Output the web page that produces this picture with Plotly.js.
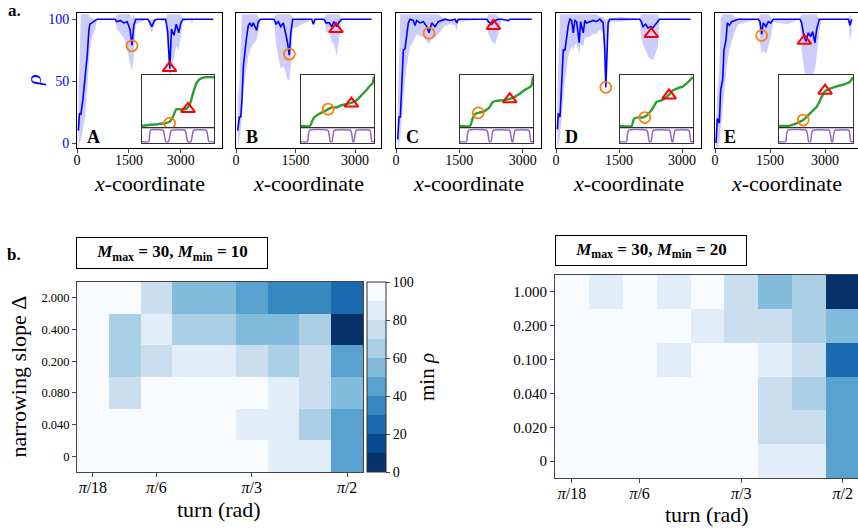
<!DOCTYPE html>
<html><head><meta charset="utf-8">
<script src="https://cdn.plot.ly/plotly-3.0.1.min.js"></script>
<style>body{margin:0;background:#fff;} #plot{width:858px;height:532px;}</style>
</head><body><div id="plot"></div>
<script>
// ---------- panel a: rho along x-coordinate ----------
const panelLetters = ['A','B','C','D','E'];
const xTicks = [0, 1500, 3000];
const yTicks = [0, 50, 100];

const aX   = [40,70,110,170,240,300,340,370,430,530,580,1100,1150,1250,1350,1450,1530,1590,1640,1700,2050,2110,2160,2240,2300,2560,2620,2680,2730,2800,2870,2940,3000,3060,3280,3320,3360,3940];
const aRho = [10,24,23,35,55,72,90,96,97,99.5,100,100,98,99,97,98,92,79,95,100,100,97,94,99,100,100,90,60,92,87,96,89,97,100,100,100,100,100];
const aLo  = [-4,0,2,10,22,45,60,75,85,92,100,100,92,88,85,75,65,58,70,96,100,92,89,95,100,98,70,52,60,70,78,75,85,98,100,96,100,100];
const aHi  = [45,60,104,104,104,104,104,102,101,100,100,100,104,104,104,104,104,100,104,100,100,100,100,100,100,100,104,104,104,104,104,104,104,100,100,100,100,100];

const bX   = [42,84,118,151,185,227,269,311,353,395,437,479,521,563,622,958,1008,1067,1126,1193,1244,1294,1344,1378,1429,1908,1950,1992,2218,2269,2353,2412,2470,2538,2605,2664,3420];
const bRho = [10,21,21,35,62,75,86,95,97,94,97,94,91,98,100,100,96,98,94,97,90,82,71,88,100,100,96,100,100,97,97,94,98,94,98,100,100];
const bLo  = [-4,5,10,22,40,52,62,70,75,78,80,81,84,90,100,100,80,70,60,62,58,52,50,60,92,100,94,100,100,90,88,82,80,70,85,100,100];
const bHi  = [38,48,80,104,104,104,104,104,104,104,104,104,104,102,100,100,104,104,104,104,104,104,104,104,100,100,100,100,100,104,104,104,104,104,104,100,100];

const cX   = [40,71,103,134,174,213,253,292,332,411,450,490,569,648,727,782,845,924,1003,1082,1161,1280,1398,1438,1477,2149,2188,2267,2346,2425,2504,2662,2702,3215];
const cRho = [3,21,21,48,75,76,89,97,100,99,95,99,97,98,94,89,97,94,98,99,100,99,100,97,100,100,98,96,99,100,100,99,100,100];
const cLo  = [-4,-2,5,20,35,50,62,72,78,82,85,88,86,86,82,80,84,85,88,92,95,96,95,90,98,100,88,82,80,88,100,97,100,100];
const cHi  = [30,60,104,104,104,104,104,104,104,104,104,104,104,104,104,104,104,104,104,102,100,100,100,100,100,100,104,104,104,102,100,100,100,100];

const dX   = [32,55,95,134,174,213,253,292,332,371,411,450,490,553,585,648,687,727,806,885,964,1043,1122,1161,1185,1217,1240,1280,1517,1991,2030,2070,2133,2188,2244,2307,2370,2425,2465,3200];
const dRho = [11,24,21,48,75,75,86,95,100,99,89,99,98,81,98,89,99,97,98,99,98,100,97,75,45,75,97,100,100,100,98,94,96,93,94,93,96,98,100,100];
const dLo  = [-4,-2,5,20,38,50,60,70,75,78,75,80,80,72,80,78,85,85,86,88,88,92,88,55,38,55,85,98,98,100,85,80,75,70,68,67,72,78,100,100];
const dHi  = [40,60,104,104,104,104,104,104,104,104,104,104,104,104,104,104,104,104,104,104,104,102,102,100,100,100,100,100,102,100,104,104,104,104,104,104,104,104,100,100];

const eX   = [27,64,118,155,209,245,300,336,391,455,545,636,1182,1227,1273,1318,1391,1454,1518,1591,1955,2318,2364,2427,2482,2545,2609,2664,2727,2773,2845,2909,3636,3682,3727];
const eRho = [0,20,16,43,51,75,83,97,95,98,99,100,100,98,88,97,94,98,97,100,100,100,97,86,82,89,86,90,81,92,100,100,100,95,100];
const eLo  = [-4,-4,0,10,25,40,55,65,75,82,90,96,100,80,72,75,72,78,85,98,96,100,75,60,52,55,52,55,60,70,90,100,100,82,90];
const eHi  = [15,40,60,100,104,104,104,104,104,104,102,100,100,104,104,104,104,104,102,100,100,100,104,104,104,104,104,104,104,104,100,100,100,104,100];

// marked points (orange circle, red triangle) in the main panels
const circX = [1590,1344,782,1185,1273];
const circY = [78.5,71.8,88.7,45,86.8];
const triX  = [2673,2521,2307,2267,2436];
const triY  = [60.5,92,94.6,88,82.5];

// ---------- insets (x as fraction of panel extent) ----------
const gAx = [0,0.315,0.384,0.43,0.477,0.523,0.593,0.639,0.676,0.708,0.755,0.801,0.87,1];
const gAy = [0.048,0.093,0.12,0.216,0.353,0.353,0.353,0.39,0.49,0.65,0.836,0.91,0.948,0.948];
const gBx = [0,0.123,0.159,0.19,0.259,0.327,0.373,0.418,0.486,0.555,0.623,0.691,0.759,0.827,0.895,0.95,0.977,1];
const gBy = [0.043,0.043,0.153,0.215,0.276,0.319,0.356,0.387,0.387,0.43,0.448,0.472,0.521,0.613,0.706,0.80,0.828,0.963];
const gCx = [0,0.136,0.173,0.205,0.25,0.295,0.355,0.409,0.445,0.5,0.568,0.636,0.682,0.75,0.818,0.909,0.977,1];
const gCy = [0.043,0.043,0.184,0.264,0.288,0.30,0.337,0.40,0.485,0.51,0.52,0.534,0.546,0.583,0.644,0.73,0.79,0.963];
const gDx = [0,0.159,0.191,0.25,0.318,0.355,0.4,0.455,0.5,0.568,0.636,0.673,0.727,0.795,0.864,0.932,1];
const gDy = [0.043,0.043,0.178,0.202,0.202,0.227,0.288,0.387,0.49,0.52,0.583,0.626,0.706,0.748,0.779,0.859,0.951];
const gEx = [0,0.145,0.236,0.327,0.395,0.464,0.509,0.545,0.577,0.623,0.691,0.782,0.873,0.955,1];
const gEy = [0.043,0.049,0.092,0.153,0.245,0.337,0.40,0.49,0.583,0.693,0.736,0.779,0.816,0.859,0.951];
const inCircX = [0.384,0.373,0.25,0.34,0.327];
const inCircY = [0.093,0.356,0.288,0.20,0.153];
const inTriX  = [0.639,0.691,0.682,0.673,0.623];
const inTriY  = [0.36,0.46,0.54,0.61,0.70];

const pAx = [0,0.095,0.105,0.12,0.28,0.30,0.315,0.33,0.37,0.385,0.40,0.42,0.59,0.605,0.62,0.635,0.68,0.695,0.71,0.725,0.885,0.90,0.915,0.93,1];
const pBx = [0,0.09,0.10,0.12,0.36,0.375,0.39,0.40,0.425,0.435,0.45,0.465,0.67,0.685,0.70,0.71,0.725,0.735,0.75,0.765,0.935,0.95,0.96,0.97,1];
const pY  = [0.07,0.07,0.5,0.88,0.88,0.8,0.4,0.07,0.07,0.4,0.8,0.88,0.88,0.8,0.4,0.07,0.07,0.4,0.8,0.88,0.88,0.8,0.4,0.07,0.07];

// ---------- panel b: heatmaps ----------
const turnTickText = ['<i>π</i>/18','<i>π</i>/6','<i>π</i>/3','<i>π</i>/2'];
const turnTickPos = [0,2,5,8];
const slopeLeft  = ['0','0.040','0.080','0.200','0.400','2.000'];
const slopeRight = ['0','0.020','0.040','0.100','0.200','1.000'];
const minRhoLeft = [
  [95,95,95,95,95,95,85,85,45],
  [95,95,95,95,95,85,85,65,45],
  [95,75,95,95,95,95,85,75,55],
  [95,65,75,85,85,75,65,75,45],
  [95,65,85,65,65,55,55,65,5],
  [95,95,75,55,55,45,35,35,25]
];
const minRhoRight = [
  [95,95,95,95,95,95,85,85,45],
  [95,95,95,95,95,95,75,75,45],
  [95,95,95,95,95,95,75,65,45],
  [95,95,95,85,95,95,85,75,25],
  [95,95,95,95,85,75,75,65,55],
  [95,85,95,85,95,75,55,65,5]
];
const binColors = ['#08306b','#084a91','#1b6aaf','#3787c0','#59a1cf','#82bbdb','#abd0e6','#cadef0','#e1edf8','#f7fbff'];
const cbTicks = [0,20,40,60,80,100];

// ---------- build ----------
const W = 858, H = 532;
const fx = p => p / W, fy = p => 1 - p / H;
const FONT = '"Liberation Serif", "Times New Roman", serif';
const ax = (n) => n === 1 ? '' : String(n);

const mainL = [77,236,396,556,715], mainR = [222,381,541,701,858];
const xMax = [4190,3655,3433,3450,3900];
const inL = [142,301,460,620,779], inR = [214,374,533,693,853];

const series = [[aX,aRho,aLo,aHi],[bX,bRho,bLo,bHi],[cX,cRho,cLo,cHi],[dX,dRho,dLo,dHi],[eX,eRho,eLo,eHi]];
const greens = [[gAx,gAy],[gBx,gBy],[gCx,gCy],[gDx,gDy],[gEx,gEy]];
const purples = [pAx,pBx,pBx,pBx,pBx];

const data = [];
const layout = {
  width: W, height: H, margin: {l:0,r:0,t:0,b:0},
  paper_bgcolor: '#fff', plot_bgcolor: '#fff', showlegend: false,
  font: {family: FONT, color: '#000', size: 14},
  annotations: []
};
const frame = {showline:true, mirror:true, linecolor:'#000', linewidth:1, showgrid:false, zeroline:false};

for (let k = 0; k < 5; k++) {
  const m = k + 1, it = k + 6, ib = k + 11;
  const [X, R, LO, HI] = series[k];
  const xa = 'x' + ax(m), ya = 'y' + ax(m);
  data.push({x:X, y:LO, mode:'lines', line:{width:0, color:'rgba(0,0,255,0)'}, xaxis:xa, yaxis:ya, hoverinfo:'skip'});
  data.push({x:X, y:HI, mode:'lines', line:{width:0, color:'rgba(0,0,255,0)'}, fill:'tonexty', fillcolor:'rgba(0,0,255,0.2)', xaxis:xa, yaxis:ya, hoverinfo:'skip'});
  data.push({x:X, y:R, mode:'lines', line:{width:1.6, color:'#0000ff'}, xaxis:xa, yaxis:ya});
  data.push({x:[circX[k]], y:[circY[k]], mode:'markers', marker:{symbol:'circle-open', size:11, color:'#ff7f0e', line:{width:1.8, color:'#ff7f0e'}}, xaxis:xa, yaxis:ya, cliponaxis:false});
  data.push({x:[triX[k]], y:[triY[k]], mode:'markers', marker:{symbol:'triangle-up-open', size:12, color:'#ff0000', line:{width:2, color:'#ff0000'}}, xaxis:xa, yaxis:ya, cliponaxis:false});
  layout['xaxis' + ax(m)] = Object.assign({}, frame, {domain:[fx(mainL[k]), fx(mainR[k])], range:[0, xMax[k]], anchor:ya,
    tickvals:xTicks, ticks:'outside', ticklen:4, ticklabelstandoff:-5, tickfont:{size:14, family:FONT}});
  layout['yaxis' + ax(m)] = Object.assign({}, frame, {domain:[fy(148), fy(13)], range:[-4,105], anchor:xa,
    tickvals:yTicks, ticks: k === 0 ? 'outside' : '', ticklen:4, showticklabels: k === 0, tickfont:{size:14, color:'#0000ff', family:FONT}});

  // inset top (green) and bottom (purple)
  const [GX, GY] = greens[k];
  const xt = 'x' + it, yt = 'y' + it, xb = 'x' + ib, yb = 'y' + ib;
  data.push({x:GX, y:GY, mode:'lines', line:{width:2.4, color:'#2ca02c', shape:'spline', smoothing:0.6}, xaxis:xt, yaxis:yt});
  data.push({x:[inCircX[k]], y:[inCircY[k]], mode:'markers', marker:{symbol:'circle-open', size:11, color:'#ff7f0e', line:{width:1.8, color:'#ff7f0e'}}, xaxis:xt, yaxis:yt, cliponaxis:false});
  data.push({x:[inTriX[k]], y:[inTriY[k]], mode:'markers', marker:{symbol:'triangle-up-open', size:12, color:'#ff0000', line:{width:2, color:'#ff0000'}}, xaxis:xt, yaxis:yt, cliponaxis:false});
  data.push({x:purples[k], y:pY, mode:'lines', line:{width:1.5, color:'#9467bd', shape:'spline', smoothing:0.5}, xaxis:xb, yaxis:yb});
  const inFrame = {showline:true, mirror:true, linecolor:'#333', linewidth:1, showgrid:false, zeroline:false, showticklabels:false, ticks:''};
  layout['xaxis' + it] = Object.assign({}, inFrame, {domain:[fx(inL[k]), fx(inR[k])], range:[0,1], anchor:yt});
  layout['yaxis' + it] = Object.assign({}, inFrame, {domain:[fy(128.3), fy(74.5)], range:[0,1], anchor:xt});
  layout['xaxis' + ib] = Object.assign({}, inFrame, {domain:[fx(inL[k]), fx(inR[k])], range:[0,1], anchor:yb});
  layout['yaxis' + ib] = Object.assign({}, inFrame, {domain:[fy(142.7), fy(128.3)], range:[0,1], anchor:xb});

  // x title
  layout.annotations.push({xref:'paper', yref:'paper', x:fx((mainL[k]+Math.min(mainR[k],860))/2), y:fy(183), text:'<i>x</i>-coordinate',
    showarrow:false, font:{size:22, family:FONT}, xanchor:'center', yanchor:'middle'});
  // panel letter
  const lx = [93.5,252,412,571,730][k];
  layout.annotations.push({xref:'paper', yref:'paper', x:fx(lx), y:fy(137.5), text:'<b>' + panelLetters[k] + '</b>',
    showarrow:false, font:{size:18, family:FONT}, xanchor:'center', yanchor:'middle'});
}

// heatmaps
const colorscale = [];
binColors.forEach((c, i) => { colorscale.push([i/10, c]); colorscale.push([(i+1)/10, c]); });
const cols = [0,1,2,3,4,5,6,7,8], rows = [0,1,2,3,4,5];
data.push({type:'heatmap', z:minRhoLeft, x:cols, y:rows, zmin:0, zmax:100, colorscale:colorscale, xaxis:'x16', yaxis:'y16',
  showscale:true, colorbar:{x:fx(366.7), xanchor:'left', xpad:0, ypad:0, thickness:19, thicknessmode:'pixels', len:190/H, lenmode:'fraction',
    y:fy(377), yanchor:'middle', outlinewidth:1, outlinecolor:'#333', tickvals:cbTicks, ticks:'outside', ticklen:4, tickfont:{size:14, family:FONT}}});
data.push({type:'heatmap', z:minRhoRight, x:cols, y:rows, zmin:0, zmax:100, colorscale:colorscale, xaxis:'x17', yaxis:'y17', showscale:false});
const hmFrame = {showline:true, mirror:true, linecolor:'#444', linewidth:1, showgrid:false, zeroline:false, ticks:'outside', ticklen:4};
layout.xaxis16 = Object.assign({}, hmFrame, {domain:[fx(77), fx(363)], range:[-0.5,8.5], anchor:'y16', tickvals:turnTickPos, ticktext:turnTickText, ticklabelstandoff:-3, tickfont:{size:16, family:FONT}});
layout.yaxis16 = Object.assign({}, hmFrame, {domain:[fy(472), fy(282)], range:[-0.5,5.5], anchor:'x16', tickvals:rows, ticktext:slopeLeft, tickfont:{size:12.5, family:FONT}});
layout.xaxis17 = Object.assign({}, hmFrame, {domain:[fx(555), 1], range:[-0.5,8.45], anchor:'y17', tickvals:turnTickPos, ticktext:turnTickText, ticklabelstandoff:-3, tickfont:{size:16, family:FONT}});
layout.yaxis17 = Object.assign({}, hmFrame, {domain:[fy(478), fy(275)], range:[-0.5,5.5], anchor:'x17', tickvals:rows, ticktext:slopeRight, tickfont:{size:15, family:FONT}});

const A = (px, py, text, size, extra) => layout.annotations.push(Object.assign({xref:'paper', yref:'paper', x:fx(px), y:fy(py), text:text,
  showarrow:false, font:{size:size, family:FONT}, xanchor:'center', yanchor:'middle'}, extra || {}));
A(33, 80, '<i>ρ</i>', 22, {textangle:-90, font:{size:22, family:FONT, color:'#0000ff'}});
A(14, 10, '<b>a.</b>', 17);
A(14, 254, '<b>b.</b>', 17);
A(17.5, 377, 'narrowing slope Δ', 22, {textangle:-90});
A(427, 377, 'min <i>ρ</i>', 21, {textangle:-90});
A(219, 509, 'turn (rad)', 22);
A(707, 514, 'turn (rad)', 22);
const boxText = (n) => '<b><i>M</i><sub>max</sub> = 30, <i>M</i><sub>min</sub> = ' + n + '</b>';
A(172, 252.8, boxText(10), 17, {bordercolor:'#000', borderwidth:1, borderpad:2, width:186, height:26, bgcolor:'#fff'});
A(651, 250, boxText(20), 17, {bordercolor:'#000', borderwidth:1, borderpad:2, width:186, height:25, bgcolor:'#fff'});

Plotly.newPlot('plot', data, layout, {displayModeBar:false, staticPlot:true});
</script></body></html>
